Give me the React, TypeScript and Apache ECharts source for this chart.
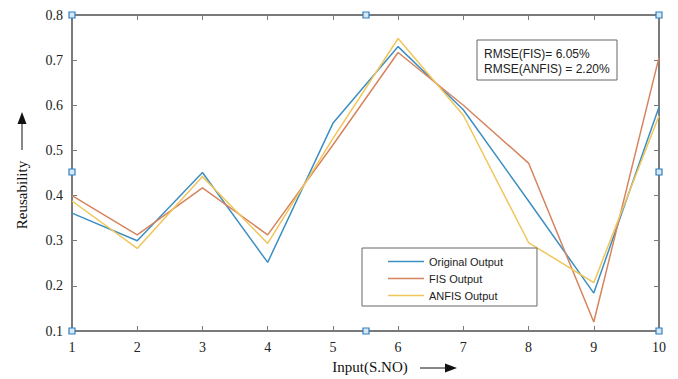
import React, { useEffect, useRef } from "react";
import * as echarts from "echarts";

const inputs = [1, 2, 3, 4, 5, 6, 7, 8, 9, 10];
const originalOutput = [0.361, 0.3, 0.451, 0.252, 0.56, 0.73, 0.59, 0.388, 0.184, 0.596];
const fisOutput = [0.4, 0.313, 0.417, 0.313, 0.512, 0.717, 0.6, 0.472, 0.12, 0.706];
const anfisOutput = [0.388, 0.283, 0.442, 0.294, 0.526, 0.748, 0.578, 0.296, 0.207, 0.577];
const seriesNames = ["Original Output", "FIS Output", "ANFIS Output"];
const rmseTexts = ["RMSE(FIS)= 6.05%", "RMSE(ANFIS) = 2.20%"];

const colors = ["#3d8fc2", "#d6845f", "#f0c65a"];

const handle = (x: number, y: number) => ({
  type: "rect",
  shape: { x: x - 3, y: y - 3, width: 6, height: 6 },
  style: { fill: "#d6e8f5", stroke: "#2f7fc0", lineWidth: 1.2 },
  z: 100,
});

export default function App() {
  const ref = useRef<HTMLDivElement>(null);
  useEffect(() => {
    if (!ref.current) return;
    const chart = echarts.init(ref.current, null, { renderer: "svg" });
    const pairs = (arr: number[]) => inputs.map((x, i) => [x, arr[i]]);
    const axisLine = { show: true, lineStyle: { color: "#7a7a7a", width: 2 } };
    const serif = "'Liberation Serif', 'Times New Roman', serif";
    const sans = "'Liberation Sans', Arial, sans-serif";
    chart.setOption({
      animation: false,
      backgroundColor: "#ffffff",
      grid: { left: 72, right: 19, top: 15, bottom: 48, containLabel: false },
      xAxis: [
        {
          type: "value",
          min: 1,
          max: 10,
          interval: 1,
          position: "bottom",
          axisLine,
          axisTick: { show: true, inside: true, length: 5, lineStyle: { color: "#7a7a7a" } },
          axisLabel: { color: "#222", fontFamily: serif, fontSize: 14, margin: 9 },
          splitLine: { show: false },
        },
        {
          type: "value",
          min: 1,
          max: 10,
          interval: 1,
          position: "top",
          axisLine,
          axisTick: { show: true, inside: true, length: 5, lineStyle: { color: "#7a7a7a" } },
          axisLabel: { show: false },
          splitLine: { show: false },
        },
      ],
      yAxis: [
        {
          type: "value",
          min: 0.1,
          max: 0.8,
          interval: 0.1,
          position: "left",
          axisLine,
          axisTick: { show: true, inside: true, length: 5, lineStyle: { color: "#7a7a7a" } },
          axisLabel: {
            color: "#222",
            fontFamily: serif,
            fontSize: 14,
            margin: 9,
            formatter: (v: number) => v.toFixed(1),
          },
          splitLine: { show: false },
        },
        {
          type: "value",
          min: 0.1,
          max: 0.8,
          interval: 0.1,
          position: "right",
          axisLine,
          axisTick: { show: true, inside: true, length: 5, lineStyle: { color: "#7a7a7a" } },
          axisLabel: { show: false },
          splitLine: { show: false },
        },
      ],
      legend: {
        orient: "vertical",
        left: 362,
        top: 248,
        data: seriesNames,
        icon: "rect",
        itemWidth: 36,
        itemHeight: 1.5,
        itemGap: 6,
        padding: [8, 34, 5, 26],
        borderColor: "#666",
        borderWidth: 1,
        backgroundColor: "#ffffff",
        textStyle: { fontFamily: sans, fontSize: 11, color: "#222" },
      },
      series: [
        { name: seriesNames[0], data: pairs(originalOutput), color: colors[0] },
        { name: seriesNames[1], data: pairs(fisOutput), color: colors[1] },
        { name: seriesNames[2], data: pairs(anfisOutput), color: colors[2] },
      ].map((s) => ({
        ...s,
        type: "line",
        xAxisIndex: 0,
        yAxisIndex: 0,
        showSymbol: false,
        symbol: "none",
        lineStyle: { width: 1.5, color: s.color },
        itemStyle: { color: s.color },
      })),
      graphic: [
        {
          type: "rect",
          shape: { x: 477, y: 40, width: 140, height: 40 },
          style: { fill: "#ffffff", stroke: "#666", lineWidth: 1 },
          z: 50,
        },
        {
          type: "text",
          x: 484,
          y: 46,
          style: {
            text: rmseTexts.join("\n"),
            fontFamily: sans,
            fontSize: 12,
            lineHeight: 15,
            fill: "#222",
          },
          z: 51,
        },
        {
          type: "text",
          x: 22,
          y: 195,
          rotation: Math.PI / 2,
          style: {
            text: "Reusability",
            fontFamily: serif,
            fontSize: 15,
            fill: "#111",
            align: "center",
            verticalAlign: "middle",
          },
        },
        {
          type: "line",
          shape: { x1: 22, y1: 150, x2: 22, y2: 122 },
          style: { stroke: "#111", lineWidth: 1 },
        },
        {
          type: "polygon",
          shape: { points: [[22, 112], [17.5, 124], [26.5, 124]] },
          style: { fill: "#111" },
        },
        {
          type: "text",
          x: 370,
          y: 367,
          style: {
            text: "Input(S.NO)",
            fontFamily: serif,
            fontSize: 15,
            fill: "#111",
            align: "center",
            verticalAlign: "middle",
          },
        },
        {
          type: "line",
          shape: { x1: 420, y1: 368, x2: 446, y2: 368 },
          style: { stroke: "#111", lineWidth: 1 },
        },
        {
          type: "polygon",
          shape: { points: [[457, 368], [445, 363.5], [445, 372.5]] },
          style: { fill: "#111" },
        },
        handle(72, 15),
        handle(72, 172),
        handle(72, 331),
        handle(366, 15),
        handle(366, 331),
        handle(659, 15),
        handle(659, 172),
        handle(659, 331),
      ],
    });
    return () => chart.dispose();
  }, []);
  return <div ref={ref} style={{ width: 678, height: 379, position: "absolute", left: 0, top: 0 }} />;
}
